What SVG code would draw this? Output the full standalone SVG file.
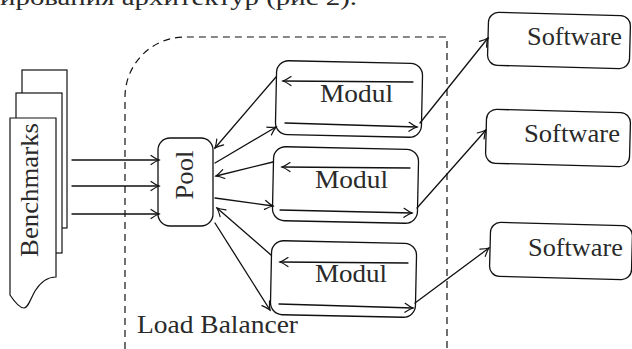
<svg xmlns="http://www.w3.org/2000/svg" width="632" height="349" viewBox="0 0 632 349">
<style>
.ln{fill:none;stroke:#111;stroke-width:1.3;stroke-linecap:round}
.box{fill:#fff;stroke:#111;stroke-width:1.3}
.pg{fill:#fff;stroke:#111;stroke-width:1.2}
.t{font-family:'Times New Roman','DejaVu Serif',serif;font-size:25px;fill:#2a2a2a}
.dash{fill:none;stroke:#111;stroke-width:1.2;stroke-dasharray:7 5}
</style>
<defs>
<marker id="to" viewBox="-10 -6 12 12" refX="0" refY="0" markerWidth="12" markerHeight="12" markerUnits="userSpaceOnUse" orient="auto">
<path d="M-8,-4.5 Q-3,-1 0,0 Q-3,1 -8,4.5" fill="none" stroke="#111" stroke-width="1.2" stroke-linecap="round"/>
</marker>
</defs>
<text class="t" x="0" y="5" textLength="357" lengthAdjust="spacingAndGlyphs" style="font-size:24px">ирования архитектур (рис 2).</text>
<g id="load-balancer">
<path class="dash" d="M125,349 V97 A60,60 0 0 1 185,37 H447 V349"/>
<text class="t" x="137" y="333" textLength="161" lengthAdjust="spacingAndGlyphs">Load Balancer</text>
</g>
<g id="benchmarks">
<rect class="pg" x="22" y="70" width="45" height="158"/>
<rect class="pg" x="16" y="93" width="46" height="160"/>
<path class="pg" d="M10,118 H56 V277 C47,277 40,283 35,291 C30,300 28,308 24,308 C19,308 14,301 10,295 Z"/>
<text class="t" transform="translate(38,190) rotate(-90)" text-anchor="middle" textLength="134" lengthAdjust="spacingAndGlyphs">Benchmarks</text>
</g>
<g id="pool">
<rect class="box" x="158" y="138" width="55" height="88" rx="12"/>
<text class="t" transform="translate(193,175) rotate(-90)" text-anchor="middle" textLength="49" lengthAdjust="spacingAndGlyphs">Pool</text>
</g>
<g id="modul1">
<rect class="box" x="276" y="62" width="146" height="74" rx="12" transform="rotate(1.2 349 99)"/>
<path class="ln" d="M413,82 L283,81" marker-end="url(#to)"/>
<path class="ln" d="M285,123 L417,127" marker-end="url(#to)"/>
<text class="t" x="320" y="102" textLength="73" lengthAdjust="spacingAndGlyphs">Modul</text>
</g>
<g id="modul2">
<rect class="box" x="273" y="148" width="145" height="74" rx="12" transform="rotate(1.2 345 185)"/>
<path class="ln" d="M410,168 L282,167" marker-end="url(#to)"/>
<path class="ln" d="M280,210 L412,213" marker-end="url(#to)"/>
<text class="t" x="315" y="188" textLength="73" lengthAdjust="spacingAndGlyphs">Modul</text>
</g>
<g id="modul3">
<rect class="box" x="271" y="242" width="145" height="74" rx="12" transform="rotate(1.2 343 279)"/>
<path class="ln" d="M408,263 L280,262" marker-end="url(#to)"/>
<path class="ln" d="M279,304 L413,308" marker-end="url(#to)"/>
<text class="t" x="315" y="282" textLength="72" lengthAdjust="spacingAndGlyphs">Modul</text>
</g>
<g id="software1">
<rect class="box" x="488" y="14" width="142" height="53" rx="10" transform="rotate(1.5 559 40)"/>
<text class="t" x="527" y="45" textLength="95" lengthAdjust="spacingAndGlyphs">Software</text>
</g>
<g id="software2">
<rect class="box" x="486" y="111" width="144" height="54" rx="10" transform="rotate(1.5 558 138)"/>
<text class="t" x="524" y="142" textLength="96" lengthAdjust="spacingAndGlyphs">Software</text>
</g>
<g id="software3">
<rect class="box" x="490" y="224" width="142" height="54" rx="10" transform="rotate(1.5 561 251)"/>
<text class="t" x="528" y="256" textLength="95" lengthAdjust="spacingAndGlyphs">Software</text>
</g>
<g id="connectors">
<path class="ln" d="M72,160 H159" marker-end="url(#to)"/>
<path class="ln" d="M72,186 H159" marker-end="url(#to)"/>
<path class="ln" d="M72,214 H159" marker-end="url(#to)"/>
<path class="ln" d="M276,77 L215,148" marker-end="url(#to)"/>
<path class="ln" d="M215,163 L276,127" marker-end="url(#to)"/>
<path class="ln" d="M273,162 L216,176" marker-end="url(#to)"/>
<path class="ln" d="M215,198 L273,206" marker-end="url(#to)"/>
<path class="ln" d="M271,255 L217,208" marker-end="url(#to)"/>
<path class="ln" d="M215,223 L270,310" marker-end="url(#to)"/>
<path class="ln" d="M420,123 L488,38" marker-end="url(#to)"/>
<path class="ln" d="M417,208 L486,130" marker-end="url(#to)"/>
<path class="ln" d="M415,303 L489,248" marker-end="url(#to)"/>
</g>
</svg>
